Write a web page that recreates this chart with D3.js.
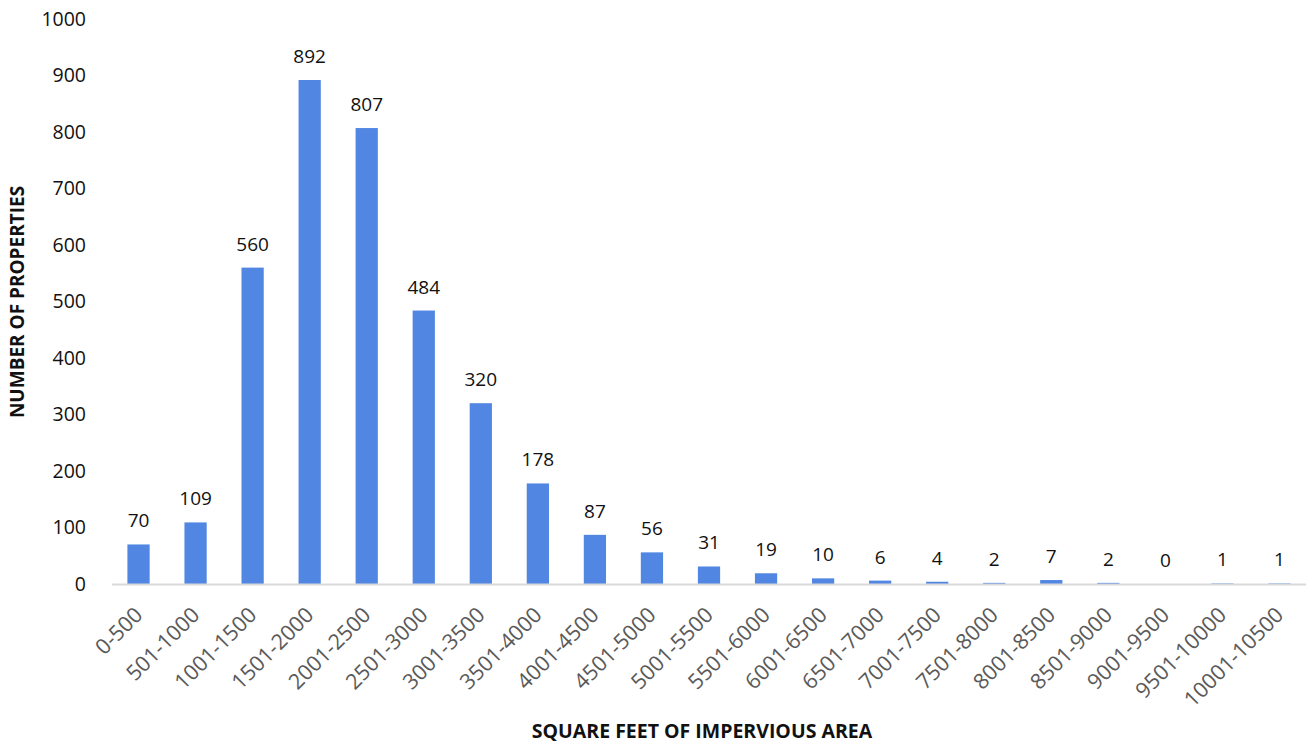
<!DOCTYPE html>
<html><head><meta charset="utf-8">
<script src="https://cdn.jsdelivr.net/npm/d3@7"></script>
<style>body{margin:0;background:#fff;}svg{display:block;}</style>
</head><body>
<svg id="chart" width="1306" height="745"></svg>
<script>
const categories = ["0-500","501-1000","1001-1500","1501-2000","2001-2500","2501-3000","3001-3500","3501-4000","4001-4500","4501-5000","5001-5500","5501-6000","6001-6500","6501-7000","7001-7500","7501-8000","8001-8500","8501-9000","9001-9500","9501-10000","10001-10500"];
const values = [70,109,560,892,807,484,320,178,87,56,31,19,10,6,4,2,7,2,0,1,1];
const yTicks = [0,100,200,300,400,500,600,700,800,900,1000];

const svg = d3.select("#chart");
const font = "'Open Sans', sans-serif";
const x = d3.scaleBand().domain(categories).range([110, 1308]).paddingInner(0.61).paddingOuter(0.305);
const y = d3.scaleLinear().domain([0, 1000]).range([584, 19]);

// y tick labels
svg.append("g").selectAll("text").data(yTicks).join("text")
  .attr("x", 86).attr("y", d => y(d)).attr("dy", "0.35em")
  .attr("text-anchor", "end").attr("font-family", font).attr("font-size", 19.5)
  .attr("fill", "#111").text(d => d);

// bars
svg.append("g").selectAll("rect").data(values).join("rect")
  .attr("x", (d, i) => x(categories[i])).attr("width", x.bandwidth())
  .attr("y", d => y(d)).attr("height", d => y(0) - y(d))
  .attr("fill", "#5187e2");

// axis line
svg.append("line").attr("x1", 112).attr("x2", 1306).attr("y1", y(0) + 0.5).attr("y2", y(0) + 0.5)
  .attr("stroke", "#d9d9d9").attr("stroke-width", 2);

// data labels
svg.append("g").selectAll("text").data(values).join("text")
  .attr("x", (d, i) => x(categories[i]) + x.bandwidth() / 2)
  .attr("y", d => y(d) - 17)
  .attr("text-anchor", "middle").attr("font-family", font).attr("font-size", 19)
  .attr("fill", "#111").text(d => d);

// x labels
svg.append("g").selectAll("text").data(categories).join("text")
  .attr("transform", d => `translate(${x(d) + x.bandwidth() / 2},${y(0) + 27}) rotate(-45)`)
  .attr("text-anchor", "end").attr("dy", "0.35em")
  .attr("font-family", font).attr("font-size", 21.5).attr("fill", "#5a5a5a").text(d => d);

// axis titles
svg.append("text").attr("transform", "translate(17,302) rotate(-90)")
  .attr("text-anchor", "middle").attr("dy", "0.35em")
  .attr("font-family", font).attr("font-weight", "bold").attr("font-size", 19)
  .attr("fill", "#111").text("NUMBER OF PROPERTIES");
svg.append("text").attr("x", 702).attr("y", 731.5)
  .attr("text-anchor", "middle").attr("dy", "0.35em")
  .attr("font-family", font).attr("font-weight", "bold").attr("font-size", 19.5)
  .attr("fill", "#111").text("SQUARE FEET OF IMPERVIOUS AREA");
</script>
</body></html>
